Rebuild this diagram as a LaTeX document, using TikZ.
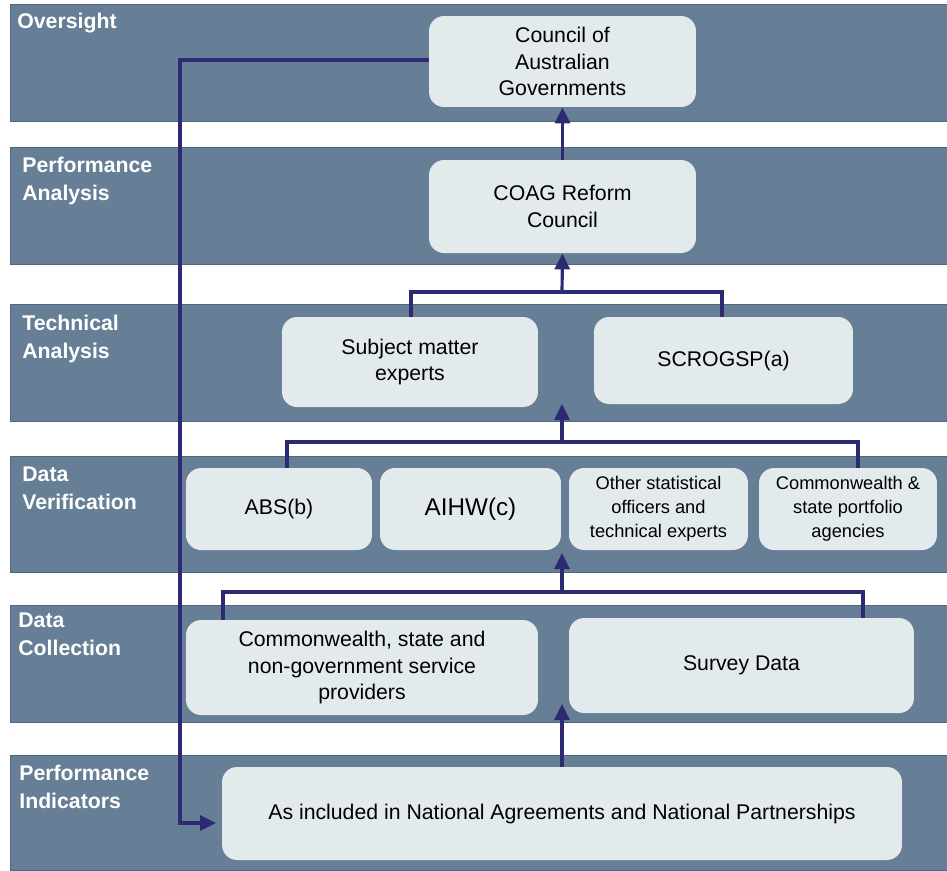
\documentclass[tikz,border=0pt]{standalone}
\usepackage{fontspec}
\setmainfont{Liberation Sans}
\usepackage{xcolor}
\usepackage{tikz}
\usetikzlibrary{arrows.meta}

\definecolor{bandblue}{HTML}{667F96}
\definecolor{bandedge}{HTML}{4D6882}
\definecolor{boxfill}{HTML}{E3EAEC}
\definecolor{linknavy}{HTML}{2B2A72}

\tikzset{
  band/.style={fill=bandblue, draw=bandedge, line width=0.5pt},
  bandlabel/.style={anchor=north west, inner sep=0pt, align=left, text=white,
    font=\bfseries\fontsize{12.1}{15.9}\selectfont},
  box/.style={fill=boxfill, rounded corners=0.3cm, inner sep=2pt, align=center,
    font=\fontsize{12.1}{15.3}\selectfont},
  smallbox/.style={box, font=\fontsize{10.4}{13.6}\selectfont},
  link/.style={draw=linknavy, line width=1.8pt},
  uparrow/.style={link, -{Triangle[length=0.32cm, width=0.3cm]}}
}

\begin{document}
\begin{tikzpicture}[x=0.02cm, y=-0.02cm]
            \useasboundingbox (0,0) rectangle (947,870);
            % Bands
            \fill[band] (10,4) rectangle (947,121);
            \fill[band] (10,147) rectangle (947,264);
            \fill[band] (10,304) rectangle (947,421);
            \fill[band] (10,456) rectangle (947,572);
            \fill[band] (10,605) rectangle (947,722);
            \fill[band] (10,755) rectangle (947,870);
            \node[bandlabel] (lovers) at (17,13) {Oversight};
            \node[bandlabel] (lperf) at (22,157) {Performance\\Analysis};
            \node[bandlabel] (ltech) at (22,315) {Technical\\Analysis};
            \node[bandlabel] (lverif) at (22,467) {Data\\Verification};
            \node[bandlabel] (lcoll) at (18,613) {Data\\Collection};
            \node[bandlabel] (lind) at (19,765) {Performance\\Indicators};
            % Oversight and analysis
            \node[box, minimum width=5.34cm, minimum height=1.82cm] (coag) at (562.5,61.5) {Council of\\Australian\\Governments};
            \node[box, minimum width=5.34cm, minimum height=1.86cm] (crc) at (562.5,206.5) {COAG Reform\\Council};
            \node[box, minimum width=5.12cm, minimum height=1.8cm] (sme) at (410,362) {Subject matter\\experts};
            \node[box, minimum width=5.18cm, minimum height=1.74cm] (scro) at (723.5,360.5) {SCROGSP(a)};
            % Data verification
            \node[box, minimum width=3.72cm, minimum height=1.64cm] (abs) at (279,509) {ABS(b)};
            \node[box, minimum width=3.62cm, minimum height=1.64cm, font=\fontsize{13.8}{16}\selectfont] (aihw) at (470.5,509) {AIHW(c)};
            \node[smallbox, minimum width=3.58cm, minimum height=1.64cm] (other) at (658.5,509) {Other statistical\\officers and\\technical experts};
            \node[smallbox, minimum width=3.56cm, minimum height=1.64cm] (port) at (848,509) {Commonwealth \&\\state portfolio\\agencies};
            % Data collection
            \node[box, minimum width=7.04cm, minimum height=1.9cm] (prov) at (362,667.5) {Commonwealth, state and\\non-government service\\providers};
            \node[box, minimum width=6.9cm, minimum height=1.9cm] (survey) at (741.5,665.5) {Survey Data};
            % Indicators
            \node[box, minimum width=13.6cm, minimum height=1.86cm] (ind) at (562,813.5) {As included in National Agreements and National Partnerships};
            % Links
            \coordinate (jtech) at (562,292);
            \coordinate (jverif) at (562,442);
            \coordinate (tverif) at (562,404);
            \coordinate (jcoll) at (562,592);
            \coordinate (tcoll) at (562,553);
            \coordinate (tind) at (562,704);
            \coordinate (loop) at (180,823);
            \draw[uparrow] (crc.north) -- (coag.south);
            \draw[link] (sme.north -| 411,0) |- (jtech) -| (scro.north -| 722,0);
            \draw[uparrow] (jtech) -- (crc.south);
            \draw[link] (abs.north -| 287,0) |- (jverif) -| (port.north -| 858,0);
            \draw[uparrow] (jverif) -- (tverif);
            \draw[link] (prov.north -| 223,0) |- (jcoll) -| (survey.north -| 863,0);
            \draw[uparrow] (jcoll) -- (tcoll);
            \draw[uparrow] (ind.north) -- (tind);
            \draw[uparrow] (coag.west |- 0,60) -| (loop) -- (216,823);
        \end{tikzpicture}
\end{document}
